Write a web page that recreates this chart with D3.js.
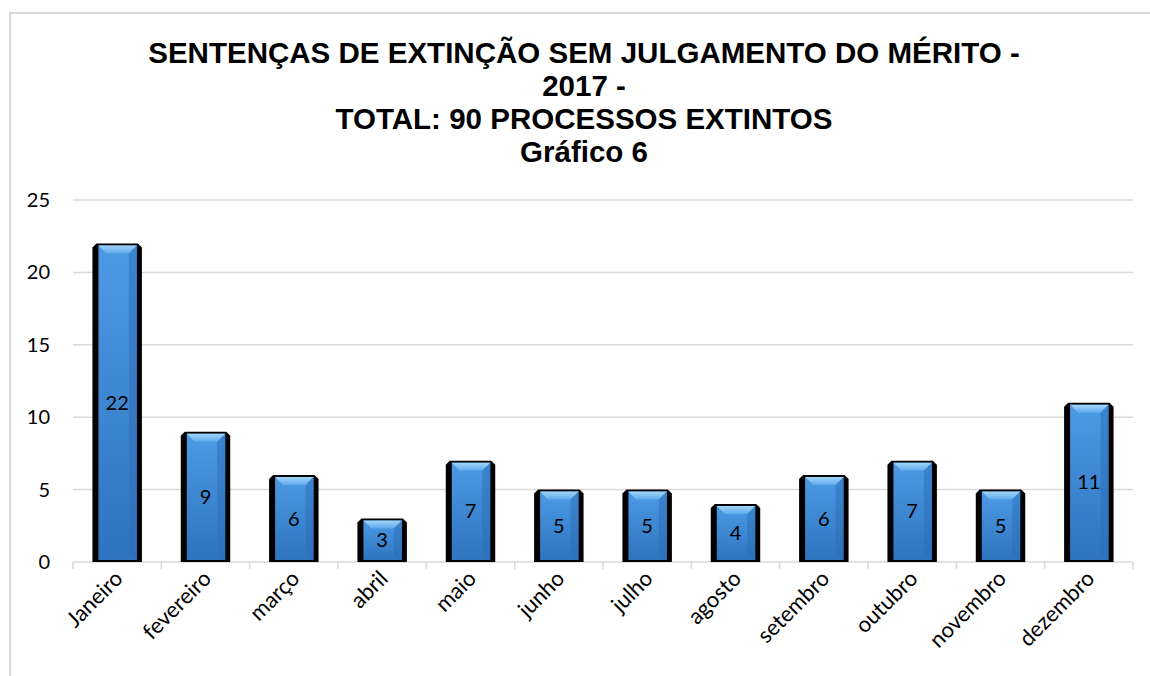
<html>
<head>
  <script src="https://cdn.jsdelivr.net/npm/d3@7/dist/d3.min.js"></script>
  <style>
  body { margin: 0; background: #fff; }
  svg { display: block; }
  </style>
</head>
<body>
<svg id="chart"></svg>
<script>
const WIDTH = 1150
const HEIGHT = 676

// data
const months = ["Janeiro", "fevereiro", "março", "abril", "maio", "junho",
                "julho", "agosto", "setembro", "outubro", "novembro", "dezembro"]
const counts = [22, 9, 6, 3, 7, 5, 5, 4, 6, 7, 5, 11]
const yTicks = [0, 5, 10, 15, 20, 25]
const titleLines = ["SENTENÇAS DE EXTINÇÃO SEM JULGAMENTO DO MÉRITO -",
                    "2017 -",
                    "TOTAL: 90 PROCESSOS EXTINTOS",
                    "Gráfico 6"]

const PLOT = { left: 73, right: 1133, top: 200, bottom: 562 }
const LABEL_FONT = "Lato, 'Open Sans', sans-serif"

let svg = d3.select("#chart").attr("width", WIDTH).attr("height", HEIGHT)

// outer frame
svg.append("rect")
  .attr("x", 10).attr("y", 13)
  .attr("width", WIDTH + 20).attr("height", HEIGHT + 20)
  .attr("fill", "none").attr("stroke", "#d9d9d9").attr("stroke-width", 2)

// title
svg.append("g")
  .attr("transform", "translate(584,0) scale(1.055,1.08)")
  .selectAll("text")
  .data(titleLines)
  .enter().append("text")
  .attr("x", 0)
  .attr("y", (d, i) => (63 + i * 33) / 1.08)
  .attr("text-anchor", "middle")
  .style("font-family", "'Liberation Sans', Arial, sans-serif")
  .style("font-weight", "bold")
  .style("font-size", "28px")
  .text(d => d)

let xScale = d3.scaleBand()
  .domain(months)
  .range([PLOT.left, PLOT.right])
  .paddingInner(0.44)
  .paddingOuter(0.22)

let yScale = d3.scaleLinear()
  .domain([0, 25])
  .range([PLOT.bottom, PLOT.top])

// gridlines
svg.append("g").selectAll("line")
  .data(yTicks.filter(v => v > 0))
  .enter().append("line")
  .attr("x1", PLOT.left).attr("x2", PLOT.right)
  .attr("y1", d => yScale(d)).attr("y2", d => yScale(d))
  .attr("stroke", "#d9d9d9").attr("stroke-width", 1.5)

// y labels
svg.append("g").selectAll("text")
  .data(yTicks)
  .enter().append("text")
  .attr("x", 50)
  .attr("y", d => yScale(d))
  .attr("dy", "0.35em")
  .attr("text-anchor", "end")
  .style("font-family", LABEL_FONT)
  .style("font-size", "20px")
  .attr("fill", "#000")
  .text(d => d)

// x axis line + boundary ticks
svg.append("line")
  .attr("x1", PLOT.left).attr("x2", PLOT.right)
  .attr("y1", PLOT.bottom).attr("y2", PLOT.bottom)
  .attr("stroke", "#d9d9d9").attr("stroke-width", 1.5)
svg.append("g").selectAll("line")
  .data(d3.range(months.length + 1))
  .enter().append("line")
  .attr("x1", i => PLOT.left + i * (PLOT.right - PLOT.left) / months.length)
  .attr("x2", i => PLOT.left + i * (PLOT.right - PLOT.left) / months.length)
  .attr("y1", PLOT.bottom).attr("y2", PLOT.bottom + 7)
  .attr("stroke", "#d9d9d9").attr("stroke-width", 1.5)

// x labels
svg.append("g").selectAll("text")
  .data(months)
  .enter().append("text")
  .attr("text-anchor", "end")
  .attr("transform", d => `translate(${xScale(d) + xScale.bandwidth() / 2 + 7},${PLOT.bottom + 18}) rotate(-45)`)
  .style("font-family", LABEL_FONT)
  .style("font-size", "22px")
  .attr("fill", "#000")
  .text(d => d)

// bar gradients
let defs = svg.append("defs")
let g1 = defs.append("linearGradient").attr("id", "face")
  .attr("x1", 0).attr("y1", 0).attr("x2", 0).attr("y2", 1)
g1.append("stop").attr("offset", "0%").attr("stop-color", "#4d9ae4")
g1.append("stop").attr("offset", "100%").attr("stop-color", "#2e74bf")
let g2 = defs.append("linearGradient").attr("id", "bevel")
  .attr("x1", 0).attr("y1", 0).attr("x2", 0).attr("y2", 1)
g2.append("stop").attr("offset", "0%").attr("stop-color", "#a3d6f9")
g2.append("stop").attr("offset", "100%").attr("stop-color", "#5ca8eb")

let data = months.map((m, i) => ({ month: m, value: counts[i] }))
let bw = xScale.bandwidth()

let bars = svg.append("g").selectAll("g")
  .data(data)
  .enter().append("g")
  .attr("transform", d => `translate(${xScale(d.month)},0)`)

// black body with chamfered top
bars.append("path")
  .attr("d", d => {
    let t = yScale(d.value), b = PLOT.bottom
    return `M0,${b} L0,${t + 4} L4,${t} L${bw - 4},${t} L${bw},${t + 4} L${bw},${b} Z`
  })
  .attr("fill", "#000")

// blue face
bars.append("rect")
  .attr("x", 6).attr("width", bw - 11)
  .attr("y", d => yScale(d.value) + 2)
  .attr("height", d => PLOT.bottom - yScale(d.value) - 4)
  .attr("fill", "url(#face)")

// top bevel
bars.append("path")
  .attr("d", d => {
    let t = yScale(d.value) + 2
    return `M6,${t} L${bw - 5},${t} L${bw - 13},${t + 8} L14,${t + 8} Z`
  })
  .attr("fill", "url(#bevel)")

// side shading
bars.append("path")
  .attr("d", d => {
    let t = yScale(d.value) + 2, b = PLOT.bottom - 2
    return `M${bw - 5},${t} L${bw - 13},${t + 8} L${bw - 13},${b - 4} L${bw - 5},${b} Z`
  })
  .attr("fill", "#2a6db5").attr("opacity", 0.5)

// value labels
bars.append("text")
  .attr("x", bw / 2)
  .attr("y", d => (yScale(d.value) + PLOT.bottom) / 2)
  .attr("dy", "0.35em")
  .attr("text-anchor", "middle")
  .style("font-family", LABEL_FONT)
  .style("font-size", "20px")
  .attr("fill", "#000")
  .text(d => d.value)
</script>
</body>
</html>
